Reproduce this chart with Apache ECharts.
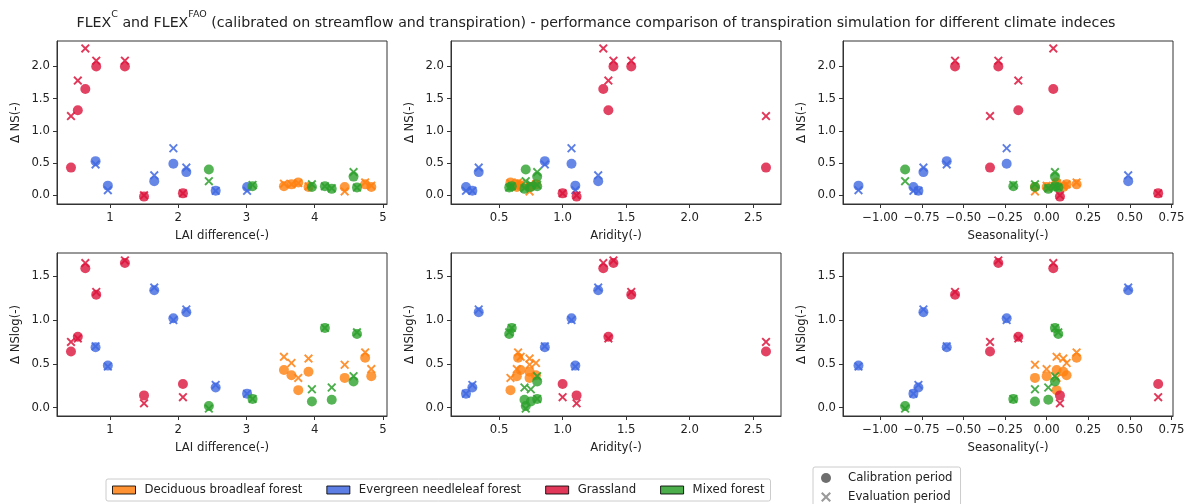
<!DOCTYPE html>
<html><head><meta charset="utf-8">
<script src="https://cdn.jsdelivr.net/npm/echarts@6/dist/echarts.min.js"></script>
<style>html,body{margin:0;padding:0;background:#fff}#c{width:1192px;height:504px}</style>
</head><body><div id="c"></div>
<script>
// ---- categories ----
const groups = ['Deciduous broadleaf forest', 'Evergreen needleleaf forest', 'Grassland', 'Mixed forest'];
const periods = ['Calibration period', 'Evaluation period'];

// ---- Deciduous broadleaf forest ----
const dbf_lai   = [3.55, 3.66, 3.76, 3.91, 4.44, 4.74, 4.83];
const dbf_ar    = [0.67, 0.79, 0.59, 0.74, 0.74, 0.65, 0.64];
const dbf_seas  = [0.06, 0.12, 0.06, 0.10, -0.07, 0.18, 0.00];
const dbf_ns_cal    = [0.14, 0.17, 0.20, 0.13, 0.13, 0.17, 0.13];
const dbf_ns_eval   = [0.18, 0.17, 0.19, 0.14, 0.06, 0.20, 0.15];
const dbf_nslog_cal = [0.43, 0.37, 0.20, 0.41, 0.34, 0.57, 0.36];
const dbf_nslog_eval= [0.58, 0.51, 0.34, 0.56, 0.49, 0.63, 0.44];

// ---- Evergreen needleleaf forest ----
const enf_lai   = [0.79, 0.97, 1.65, 1.93, 2.12, 2.55, 3.01];
const enf_ar    = [0.86, 1.10, 1.28, 1.07, 0.34, 0.29, 0.24];
const enf_seas  = [-0.60, -1.13, 0.49, -0.24, -0.74, -0.77, -0.80];
const enf_ns_cal    = [0.53, 0.15, 0.22, 0.49, 0.36, 0.07, 0.13];
const enf_ns_eval   = [0.48, 0.08, 0.31, 0.73, 0.43, 0.07, 0.07];
const enf_nslog_cal = [0.69, 0.48, 1.34, 1.02, 1.09, 0.23, 0.16];
const enf_nslog_eval= [0.70, 0.47, 1.37, 1.00, 1.12, 0.26, 0.16];

// ---- Grassland ----
const gra_lai   = [0.43, 0.53, 0.64, 0.80, 1.22, 1.50, 2.07];
const gra_ar    = [2.60, 1.36, 1.32, 1.54, 1.40, 1.11, 1.00];
const gra_seas  = [-0.34, -0.17, 0.04, -0.55, -0.29, 0.08, 0.67];
const gra_ns_cal    = [0.43, 1.32, 1.65, 2.00, 2.00, -0.02, 0.03];
const gra_ns_eval   = [1.23, 1.78, 2.28, 2.09, 2.09, 0.00, 0.03];
const gra_nslog_cal = [0.64, 0.81, 1.59, 1.29, 1.65, 0.14, 0.27];
const gra_nslog_eval= [0.75, 0.79, 1.65, 1.32, 1.68, 0.05, 0.12];

// ---- Mixed forest ----
const mix_lai   = [2.45, 3.09, 3.96, 4.15, 4.25, 4.57, 4.62];
const mix_ar    = [0.71, 0.80, 0.75, 0.60, 0.70, 0.80, 0.58];
const mix_seas  = [-0.85, -0.20, -0.07, 0.05, 0.01, 0.05, 0.07];
const mix_ns_cal    = [0.40, 0.14, 0.13, 0.14, 0.10, 0.29, 0.12];
const mix_ns_eval   = [0.22, 0.16, 0.17, 0.14, 0.11, 0.36, 0.12];
const mix_nslog_cal = [0.02, 0.10, 0.07, 0.91, 0.09, 0.30, 0.84];
const mix_nslog_eval= [-0.01, 0.10, 0.21, 0.91, 0.23, 0.36, 0.86];

// ---- tick labels ----
const laiTicks  = [1, 2, 3, 4, 5];
const arTicks   = [0.5, 1.0, 1.5, 2.0, 2.5];
const seasTicks = [-1.00, -0.75, -0.50, -0.25, 0.00, 0.25, 0.50, 0.75];
const nsTicks   = [0.0, 0.5, 1.0, 1.5, 2.0];
const nslogTicks= [0.0, 0.5, 1.0, 1.5];

// ---- styling ----
const colors = ['#ff7f0e', '#4169e1', '#dc143c', '#2ca02c'];
const FONT = 'DejaVu Sans';
const FS = 11.7;
const TXT = '#222';
const XPATH = 'path://M0,1.5L1.5,0L5,3.5L8.5,0L10,1.5L6.5,5L10,8.5L8.5,10L5,6.5L1.5,10L0,8.5L3.5,5Z';

const idxVals = [
  [dbf_lai, enf_lai, gra_lai, mix_lai],
  [dbf_ar, enf_ar, gra_ar, mix_ar],
  [dbf_seas, enf_seas, gra_seas, mix_seas]
];
const xDefs = [
  {name: 'LAI difference(-)', min: 0.225, max: 5.06, ticks: laiTicks, fmt: v => String(Math.round(v))},
  {name: 'Aridity(-)', min: 0.122, max: 2.718, ticks: arTicks, fmt: v => v.toFixed(1)},
  {name: 'Seasonality(-)', min: -1.223, max: 0.759, ticks: seasTicks, fmt: v => v.toFixed(2).replace('-', '\u2212')}
];
const metVals = [
  {cal: [dbf_ns_cal, enf_ns_cal, gra_ns_cal, mix_ns_cal], ev: [dbf_ns_eval, enf_ns_eval, gra_ns_eval, mix_ns_eval]},
  {cal: [dbf_nslog_cal, enf_nslog_cal, gra_nslog_cal, mix_nslog_cal], ev: [dbf_nslog_eval, enf_nslog_eval, gra_nslog_eval, mix_nslog_eval]}
];
const yDefs = [
  {name: '\u0394 NS(-)', min: -0.135, max: 2.395, ticks: nsTicks},
  {name: '\u0394 NSlog(-)', min: -0.095, max: 1.765, ticks: nslogTicks}
];

const lefts = [57, 451, 843];
const tops = [41, 253];
const grids = [], xAxes = [], yAxes = [], series = [];
for (let r = 0; r < 2; r++) {
  for (let c = 0; c < 3; c++) {
    const gi = r * 3 + c;
    grids.push({left: lefts[c], top: tops[r], width: 330, height: 163, show: true,
      borderColor: '#333', borderWidth: 1, backgroundColor: 'transparent'});
    const xd = xDefs[c], yd = yDefs[r];
    xAxes.push({type: 'value', gridIndex: gi, min: xd.min, max: xd.max,
      name: xd.name, nameLocation: 'middle', nameGap: 26,
      nameTextStyle: {fontFamily: FONT, fontSize: FS, color: TXT},
      axisLine: {show: true, onZero: false, lineStyle: {color: '#333', width: 1}},
      axisTick: {show: true, length: 4, customValues: xd.ticks, lineStyle: {color: '#333'}},
      axisLabel: {customValues: xd.ticks, formatter: xd.fmt, fontFamily: FONT, fontSize: FS, color: TXT, margin: 8},
      splitLine: {show: false}});
    yAxes.push({type: 'value', gridIndex: gi, min: yd.min, max: yd.max,
      name: yd.name, nameLocation: 'middle', nameGap: 35, nameRotate: 90,
      nameTextStyle: {fontFamily: FONT, fontSize: FS, color: TXT},
      axisLine: {show: true, onZero: false, lineStyle: {color: '#333', width: 1}},
      axisTick: {show: true, length: 4, customValues: yd.ticks, lineStyle: {color: '#333'}},
      axisLabel: {customValues: yd.ticks, formatter: v => v.toFixed(1), fontFamily: FONT, fontSize: FS, color: TXT, margin: 7},
      splitLine: {show: false}});
    for (let g = 0; g < 4; g++) {
      const xs = idxVals[c][g];
      const cal = metVals[r].cal[g], ev = metVals[r].ev[g];
      series.push({type: 'scatter', name: groups[g], xAxisIndex: gi, yAxisIndex: gi,
        symbol: 'circle', symbolSize: 10,
        itemStyle: {color: colors[g], opacity: 0.8},
        data: xs.map((x, i) => [x, cal[i]])});
      series.push({type: 'scatter', name: groups[g], xAxisIndex: gi, yAxisIndex: gi,
        symbol: XPATH, symbolSize: 9,
        itemStyle: {color: colors[g], opacity: 0.85},
        data: xs.map((x, i) => [x, ev[i]])});
    }
  }
}
// dummy series for the marker-type legend
series.push({type: 'scatter', name: periods[0], xAxisIndex: 0, yAxisIndex: 0, data: []});
series.push({type: 'scatter', name: periods[1], xAxisIndex: 0, yAxisIndex: 0, data: []});

const chart = echarts.init(document.getElementById('c'), null, {renderer: 'canvas'});
chart.setOption({
  animation: false,
  backgroundColor: '#fff',
  title: {
    left: 'center', top: 5,
    text: '{a|FLEX}{s|C}{a| and FLEX}{s|FAO}{a| (calibrated on streamflow and transpiration) - performance comparison of transpiration simulation for different climate indeces}',
    textStyle: {
      fontWeight: 'normal',
      rich: {
        a: {fontFamily: FONT, fontSize: 14.2, fontWeight: 'normal', color: TXT, lineHeight: 20, verticalAlign: 'bottom'},
        s: {fontFamily: FONT, fontSize: 9.5, fontWeight: 'normal', color: TXT, lineHeight: 13, verticalAlign: 'top'}
      }
    }
  },
  grid: grids, xAxis: xAxes, yAxis: yAxes,
  legend: [
    {left: 106, top: 479, orient: 'horizontal', padding: [5, 6], itemGap: 24,
      itemWidth: 23, itemHeight: 8, borderColor: '#ccc', borderWidth: 1, borderRadius: 2,
      selectedMode: false,
      textStyle: {fontFamily: FONT, fontSize: FS, color: TXT, padding: [0, 0, 0, 4]},
      data: groups.map((n, g) => ({name: n, icon: 'rect',
        itemStyle: {color: colors[g], opacity: 0.85, borderColor: '#000', borderWidth: 1}}))},
    {left: 813, top: 467, height: 60, orient: 'vertical', padding: [5, 8], itemGap: 7,
      itemWidth: 16, itemHeight: 10, borderColor: '#ccc', borderWidth: 1, borderRadius: 2,
      selectedMode: false,
      textStyle: {fontFamily: FONT, fontSize: FS, color: TXT, padding: [0, 0, 0, 9]},
      data: [
        {name: periods[0], icon: 'circle', itemStyle: {color: '#555', opacity: 0.85}},
        {name: periods[1], icon: XPATH, itemStyle: {color: '#888', opacity: 0.85}}
      ]}
  ],
  series: series
});
</script></body></html>
